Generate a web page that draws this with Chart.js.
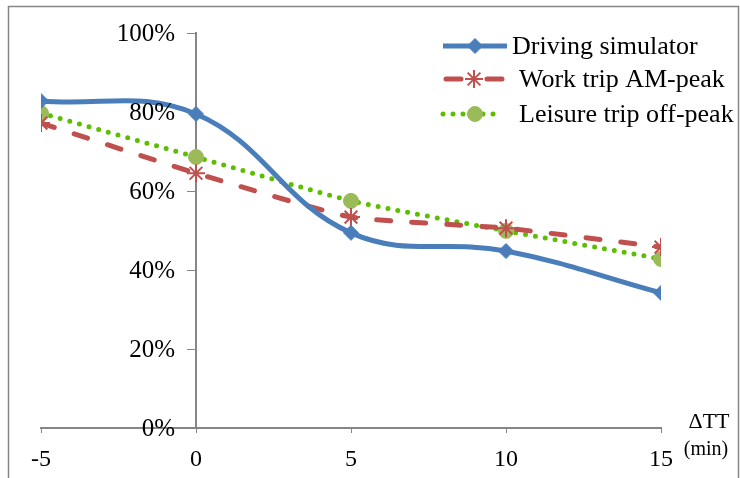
<!DOCTYPE html>
<html lang="en">
<head>
    <meta charset="UTF-8">
    <title>Driving simulator vs trips</title>
    <script src="https://cdn.jsdelivr.net/npm/chart.js"></script>
    <style>
        body {
            margin: 0;
            padding: 0;
            background-color: white;
        }

        canvas {
            display: block;
        }
    </style>
</head>
<body>
    <canvas id="myChart" width="740" height="478"></canvas>

    <script>
        // data
        const deltaTT = [-5, 0, 5, 10, 15];
        const drivingSim = [82.8, 79.5, 49.4, 44.8, 34.2];
        const workTrip = [77.2, 64.5, 53.4, 50.6, 45.8];
        const leisureTrip = [79.7, 68.6, 57.5, 49.9, 42.8];
        const yTicks = [0, 20, 40, 60, 80, 100];

        const seriesNames = ['Driving simulator', 'Work trip AM-peak', 'Leisure trip off-peak'];

        const BLUE = '#4A7EBB';
        const RED = '#C0504D';
        const GREEN = '#5DBE00';
        const GREEN_MARK = '#9BBB59';
        const AXIS = '#868686';
        const FONT = "'Liberation Serif', 'Times New Roman', serif";

        function toPoints(values) {
            return values.map((v, i) => ({ x: deltaTT[i], y: v }));
        }

        // frame, y labels, legend and axis title
        const extras = {
            id: 'extras',
            beforeDraw(chart) {
                const c = chart.ctx;
                c.save();
                c.strokeStyle = AXIS;
                c.lineWidth = 1.5;
                c.strokeRect(8.5, 6.5, 730, 480);
                c.restore();
            },
            afterDraw(chart) {
                const c = chart.ctx;

                // y tick labels sit left of the axis that crosses at x = 0
                const ys = chart.scales.y;
                const x0 = chart.scales.x.getPixelForValue(0);
                c.save();
                c.fillStyle = '#000';
                c.font = '25px ' + FONT;
                c.textAlign = 'right';
                c.textBaseline = 'middle';
                ys.ticks.forEach(t => {
                    c.fillText(t.value + '%', x0 - 21, ys.getPixelForValue(t.value) + 1);
                });
                c.restore();

                const rows = [
                    { y: 46, x1: 443, x2: 507, mx: 475, tx: 512 },
                    { y: 79, x1: 446, x2: 502, mx: 474, tx: 519 },
                    { y: 114, x1: 443, x2: 500, mx: 475, tx: 519 }
                ];
                rows.forEach((r, i) => {
                    const ds = chart.data.datasets[i];
                    c.save();
                    c.strokeStyle = ds.borderColor;
                    c.lineWidth = ds.borderWidth;
                    c.lineCap = ds.borderCapStyle || 'butt';
                    if (i === 1) c.setLineDash([15, 26]);
                    if (i === 2) c.setLineDash([0, 10]);
                    c.beginPath();
                    c.moveTo(r.x1, r.y);
                    c.lineTo(r.x2, r.y);
                    c.stroke();
                    c.restore();

                    c.save();
                    c.fillStyle = ds.pointBackgroundColor;
                    c.strokeStyle = ds.pointBorderColor;
                    c.lineWidth = ds.pointBorderWidth;
                    Chart.helpers.drawPoint(c, {
                        pointStyle: ds.pointStyle,
                        radius: ds.pointRadius,
                        borderWidth: ds.pointBorderWidth
                    }, r.mx, r.y);
                    c.fillStyle = '#000';
                    c.font = '26px ' + FONT;
                    c.textBaseline = 'middle';
                    c.fillText(seriesNames[i], r.tx, r.y + 1);
                    c.restore();
                });

                c.save();
                c.fillStyle = '#000';
                c.textAlign = 'center';
                c.textBaseline = 'middle';
                c.font = '22px ' + FONT;
                c.fillText('\u0394TT', 709, 422);
                c.font = '20px ' + FONT;
                c.fillText('(min)', 706, 450);
                c.restore();
            }
        };

        const ctx = document.getElementById('myChart').getContext('2d');
        new Chart(ctx, {
            type: 'line',
            data: {
                datasets: [
                    {
                        label: seriesNames[0],
                        data: toPoints(drivingSim),
                        borderColor: BLUE,
                        backgroundColor: BLUE,
                        borderWidth: 5,
                        tension: 0.4,
                        pointStyle: 'rectRot',
                        pointRadius: 7.5,
                        pointBackgroundColor: BLUE,
                        pointBorderColor: BLUE,
                        pointBorderWidth: 1
                    },
                    {
                        label: seriesNames[1],
                        data: toPoints(workTrip),
                        borderColor: RED,
                        backgroundColor: RED,
                        borderWidth: 5,
                        borderDash: [14, 21],
                        borderCapStyle: 'round',
                        tension: 0.15,
                        pointStyle: 'star',
                        pointRadius: 9,
                        pointBackgroundColor: RED,
                        pointBorderColor: RED,
                        pointBorderWidth: 2
                    },
                    {
                        label: seriesNames[2],
                        data: toPoints(leisureTrip),
                        borderColor: GREEN,
                        backgroundColor: GREEN,
                        borderWidth: 5,
                        borderDash: [0, 10],
                        borderCapStyle: 'round',
                        tension: 0.15,
                        pointStyle: 'circle',
                        pointRadius: 7.5,
                        pointBackgroundColor: GREEN_MARK,
                        pointBorderColor: GREEN_MARK,
                        pointBorderWidth: 1
                    }
                ]
            },
            options: {
                responsive: false,
                animation: false,
                maintainAspectRatio: false,
                layout: {
                    padding: { left: 41, right: 79, top: 33, bottom: 0 }
                },
                plugins: {
                    legend: { display: false },
                    tooltip: { enabled: false }
                },
                scales: {
                    x: {
                        type: 'linear',
                        min: -5,
                        max: 15,
                        afterBuildTicks: (axis) => {
                            axis.ticks = deltaTT.map(v => ({ value: v }));
                        },
                        afterFit: (axis) => {
                            axis.height = 50;
                        },
                        grid: {
                            drawOnChartArea: false,
                            drawTicks: true,
                            tickLength: 5,
                            color: AXIS
                        },
                        border: { color: AXIS, width: 2 },
                        ticks: {
                            color: '#000',
                            padding: 12,
                            maxRotation: 0,
                            font: { family: FONT, size: 24 }
                        }
                    },
                    y: {
                        type: 'linear',
                        min: 0,
                        max: 100,
                        position: { x: 0 },
                        afterBuildTicks: (axis) => {
                            axis.ticks = yTicks.map(v => ({ value: v }));
                        },
                        grid: {
                            drawOnChartArea: false,
                            drawTicks: true,
                            tickLength: 8,
                            color: AXIS
                        },
                        border: { color: AXIS, width: 2 },
                        ticks: {
                            display: false
                        }
                    }
                }
            },
            plugins: [extras]
        });
    </script>
</body>
</html>
